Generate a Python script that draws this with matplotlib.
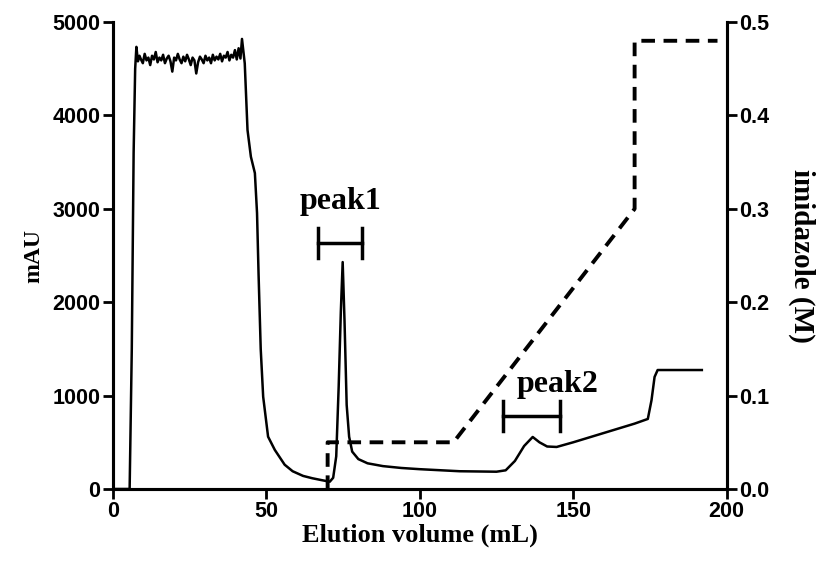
import matplotlib
matplotlib.use("Agg")
import matplotlib.pyplot as plt

# UV trace (mAU) vs elution volume (mL)
vol = [0, 3, 5.5, 6.2, 6.8, 7.3, 7.7,
       8.2, 8.7, 9.2, 9.8, 10.4, 11, 11.6, 12.2, 12.8, 13.4, 14, 14.6, 15.2,
       15.8, 16.4, 17, 17.6, 18.2, 18.8, 19.4, 20, 20.6, 21.2, 21.8, 22.4,
       23, 23.6, 24.2, 24.8, 25.4, 26, 26.6, 27.2, 27.8, 28.4, 29, 29.6,
       30.2, 30.8, 31.4, 32, 32.6, 33.2, 33.8, 34.4, 35, 35.6, 36.2, 36.8,
       37.4, 38, 38.6, 39.2, 39.8, 40.4, 41, 41.6, 42.1,
       43.0, 43.9, 45.0, 46.3, 47.0, 47.5, 48.2, 49.0, 50.6, 52.8, 56, 58.6,
       62, 65, 68, 70.7, 71.8, 72.8, 73.6, 74.3, 74.9, 75.5, 76.2, 77, 78,
       80, 83, 88, 94, 100, 113, 125, 128, 131, 134, 136.8, 139, 141.5,
       144.6, 150, 160, 170, 174.3, 175.5, 176.5, 177.5, 184, 191.9]
mau = [0, 0, 0, 1500, 3600, 4500, 4735,
       4580, 4640, 4600, 4560, 4660, 4590, 4620, 4540, 4640, 4600, 4680, 4570,
       4620, 4590, 4650, 4560, 4610, 4640, 4580, 4470, 4620, 4590, 4660, 4600,
       4560, 4630, 4580, 4650, 4600, 4540, 4620, 4590, 4450, 4570, 4630, 4600,
       4560, 4640, 4590, 4620, 4560, 4650, 4590, 4630, 4600, 4660, 4580, 4640,
       4620, 4680, 4590, 4650, 4620, 4700, 4600, 4720, 4610, 4820,
       4558, 3844, 3558, 3383, 2955, 2300, 1500, 988, 560, 418, 260, 190,
       140, 115, 95, 78, 120, 350, 1100, 1900, 2430, 1800, 900, 560, 400,
       320, 275, 245, 225, 212, 190, 185, 200, 300, 460, 557, 500, 455,
       450, 500, 600, 700, 750, 950, 1200, 1274, 1274, 1274]

# imidazole gradient (M)
grad_vol = [70, 70, 111, 170, 170, 197]
grad_conc = [0, 0.05, 0.05, 0.3, 0.48, 0.48]

# peak marks: label, bar x range, bar y, text position
peak_names = ["peak1", "peak2"]
peak_bar_x = [(66.8, 81.1), (127, 145.6)]
peak_bar_y = [2630, 780]
peak_text_xy = [(74.3, 3080), (145, 1120)]

fig = plt.figure(figsize=(8.23, 5.67), dpi=100)
ax = fig.add_axes([0.137, 0.1376, 0.883 - 0.137, 0.961 - 0.1376])
ax2 = ax.twinx()

ax.plot(vol, mau, color="black", lw=1.8)
ax2.plot(grad_vol, grad_conc, color="black", lw=2.8, ls=(0, (3.5, 2.2)))

for name, (x0, x1), yb, (tx, ty) in zip(peak_names, peak_bar_x, peak_bar_y, peak_text_xy):
    ax.plot([x0, x1], [yb, yb], color="black", lw=2.5)
    ax.plot([x0, x0], [yb - 160, yb + 160], color="black", lw=2.5)
    ax.plot([x1, x1], [yb - 160, yb + 160], color="black", lw=2.5)
    ax.text(tx, ty, name, family="Liberation Serif", fontweight="bold",
            fontsize=23, ha="center", va="center")

ax.set_xlim(0, 200)
ax.set_ylim(0, 5000)
ax2.set_ylim(0, 0.5)
ax.set_xticks([0, 50, 100, 150, 200])
ax.set_yticks([0, 1000, 2000, 3000, 4000, 5000])
ax2.set_yticks([0, 0.1, 0.2, 0.3, 0.4, 0.5])
ax2.set_yticklabels(["0.0", "0.1", "0.2", "0.3", "0.4", "0.5"])

for a in (ax, ax2):
    a.spines["top"].set_visible(False)
    for s in a.spines.values():
        s.set_linewidth(2.2)
    a.tick_params(width=2, length=7, labelsize=15.5, pad=2)
    for lab in a.get_xticklabels() + a.get_yticklabels():
        lab.set_family("Liberation Sans")
        lab.set_fontweight("bold")

ax.set_xlabel("Elution volume (mL)", family="Liberation Serif",
              fontweight="bold", fontsize=19, labelpad=1)
ax.set_ylabel("mAU", family="Liberation Serif", fontweight="bold",
              fontsize=17, labelpad=6)
ax2.set_ylabel("imidazole (M)", family="Liberation Serif", fontweight="bold",
               fontsize=21, rotation=270, labelpad=33)

fig.savefig("out.png", dpi=100)
